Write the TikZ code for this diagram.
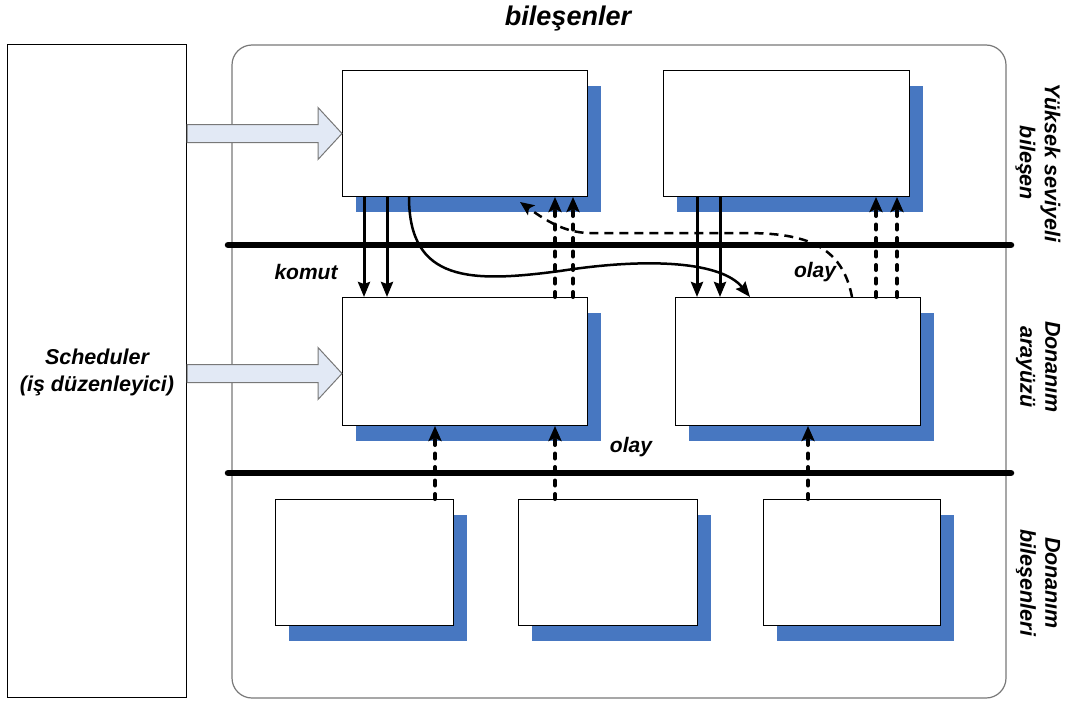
\documentclass[tikz,border=0pt]{standalone}
\usepackage{fontspec}
\setmainfont{Liberation Sans}
\usetikzlibrary{arrows.meta,shadows,calc}

\definecolor{shadowblue}{RGB}{71,119,193}
\definecolor{busarrowfill}{RGB}{226,233,245}
\definecolor{framegray}{RGB}{120,120,120}

\tikzset{
  unit/.style={draw=black, fill=white, line width=1pt, inner sep=0pt,
    anchor=north west,
    general shadow={fill=shadowblue, shadow xshift=13pt, shadow yshift=-15pt}},
  lbl/.style={font=\bfseries\itshape\fontsize{21}{25}\selectfont, inner sep=0pt},
  sidelbl/.style={font=\bfseries\itshape\fontsize{21.5}{25}\selectfont,
    rotate=-90, align=center, inner sep=0pt},
  bus/.style={line width=6.5pt, line cap=round},
  cmd/.style={line width=3pt, -{Stealth[length=15pt,width=12pt,inset=2pt]}},
  evt/.style={line width=4pt, line cap=round, dash pattern=on 5pt off 8.5pt,
    -{Stealth[length=15pt,width=13pt,inset=3pt]}},
  flow/.style={line width=2.5pt, -{Stealth[length=15pt,width=12pt,inset=2pt]}},
  evtcurve/.style={line width=2.5pt, dash pattern=on 9pt off 6pt,
    -{Stealth[length=14pt,width=12pt,inset=3pt]}},
  blockarrow/.style={draw=framegray, fill=busarrowfill, line width=1pt, line join=miter},
}

\begin{document}
\begin{tikzpicture}[x=1pt,y=-1pt]
\useasboundingbox (0,0) rectangle (1078,704);

% scheduler and the component frame
\node[draw=black, line width=1pt, inner sep=0pt, anchor=north west,
  minimum width=179pt, minimum height=653pt] (sched) at (7,44) {};
\node[lbl, font=\bfseries\itshape\fontsize{21.5}{27}\selectfont, align=center]
  (schedtxt) at (97,372) {Scheduler\\(iş düzenleyici)};

\draw[draw=framegray, line width=1.2pt, rounded corners=20pt]
  (232,45) rectangle (1006,698);
\node[lbl, font=\bfseries\itshape\fontsize{27}{30}\selectfont]
  (title) at (568,19) {bileşenler};

% event buses
\coordinate (busAw) at (228,245);
\coordinate (busAe) at (1011,245);
\coordinate (busBw) at (228,473);
\coordinate (busBe) at (1011,473);
\draw[bus] (busAw) -- (busAe);
\draw[bus] (busBw) -- (busBe);

% high level components
\node[unit, minimum width=245pt, minimum height=126pt] (tl) at (342,70) {};
\node[unit, minimum width=246pt, minimum height=126pt] (tr) at (663,70) {};
% hardware interfaces
\node[unit, minimum width=245pt, minimum height=128pt] (ml) at (342,297) {};
\node[unit, minimum width=245pt, minimum height=128pt] (mr) at (675,297) {};
% hardware components
\node[unit, minimum width=178pt, minimum height=126pt] (b1) at (275,499) {};
\node[unit, minimum width=179pt, minimum height=126pt] (b2) at (518,499) {};
\node[unit, minimum width=177pt, minimum height=126pt] (b3) at (763,499) {};

% scheduler hand-offs
\coordinate (tipA) at (tl.west);
\coordinate (tailA) at (sched.east |- tipA);
\coordinate (tipB) at ([yshift=-12pt]ml.west);
\coordinate (tailB) at (sched.east |- tipB);
\foreach \t/\s in {tipA/tailA, tipB/tailB}{
  \draw[blockarrow] ([yshift=9pt]\s) -- ([xshift=-24pt,yshift=9pt]\t)
    -- ([xshift=-24pt,yshift=26pt]\t) -- (\t)
    -- ([xshift=-24pt,yshift=-26pt]\t) -- ([xshift=-24pt,yshift=-9pt]\t)
    -- ([yshift=-9pt]\s) -- cycle;
}

% commands downwards
\draw[cmd] ([xshift=22pt]tl.south west) -- ([xshift=22pt]ml.north west);
\draw[cmd] ([xshift=45pt]tl.south west) -- ([xshift=45pt]ml.north west);
\draw[cmd] ([xshift=34pt]tr.south west) -- ([xshift=22pt]mr.north west);
\draw[cmd] ([xshift=57pt]tr.south west) -- ([xshift=45pt]mr.north west);

% events upwards
\draw[evt] ([xshift=213pt]ml.north west) -- ([xshift=213pt]tl.south west);
\draw[evt] ([xshift=231pt]ml.north west) -- ([xshift=231pt]tl.south west);
\draw[evt] ([xshift=201pt]mr.north west) -- ([xshift=213pt]tr.south west);
\draw[evt] ([xshift=222pt]mr.north west) -- ([xshift=234pt]tr.south west);

\draw[evt] ([xshift=160pt]b1.north west) -- ([xshift=93pt]ml.south west);
\draw[evt] ([xshift=37pt]b2.north west) -- ([xshift=213pt]ml.south west);
\draw[evt] ([xshift=45pt]b3.north west) -- ([xshift=133pt]mr.south west);

% cross connections
\draw[flow] ([xshift=67pt]tl.south west)
  .. controls (409,282) and (470,283) .. (560,271)
  .. controls (650,257) and (722,262) .. ([xshift=75pt]mr.north west);
\draw[evtcurve] ([xshift=177pt]mr.north west)
  .. controls (842,245) and (805,233) .. (745,233)
  -- (590,233)
  .. controls (565,233) and (545,220) .. ([xshift=178pt,yshift=-5pt]tl.south west);

% labels
\node[lbl] (komut) at (306,272) {komut};
\node[lbl] (olayA) at (815,272) {olay};
\node[lbl] (olayB) at (631,447) {olay};

\node[sidelbl] (lvlA) at (1038,163) {Yüksek seviyeli\\bileşen};
\node[sidelbl] (lvlB) at (1038,367) {Donanım\\arayüzü};
\node[sidelbl] (lvlC) at (1038,583) {Donanım\\bileşenleri};
\end{tikzpicture}
\end{document}
